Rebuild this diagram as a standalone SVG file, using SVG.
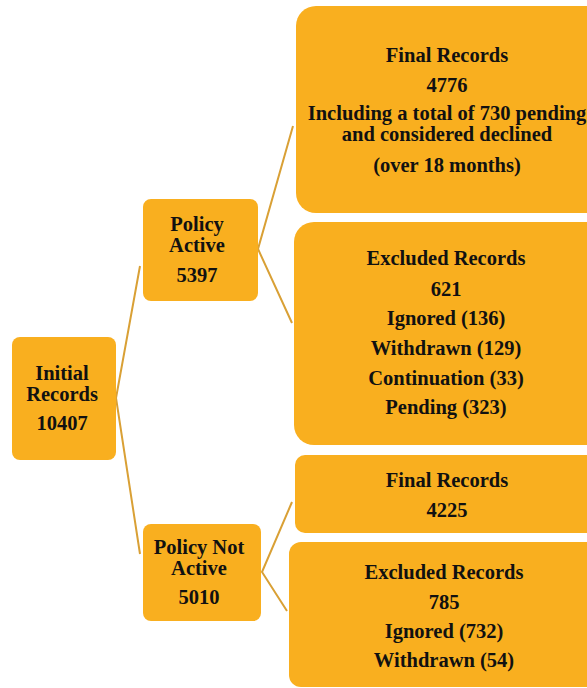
<svg xmlns="http://www.w3.org/2000/svg" width="587" height="688" viewBox="0 0 587 688">
<style>
.box{fill:#F9AF1F}
.t{font-family:"Liberation Serif","Times New Roman",serif;font-weight:bold;font-size:20.5px;fill:#111;text-anchor:middle;dominant-baseline:central}
.c{stroke:#D9A035;stroke-width:2;fill:none}
</style>
<rect width="587" height="688" fill="#fff"/>
<g id="connectors">
<polyline class="c" points="140,266 116,398 140,554"/>
<polyline class="c" points="293,126 258,249 292,323"/>
<polyline class="c" points="292,502 262,572 287,611"/>
</g>
<g id="initial">
<rect class="box" x="12" y="337" width="104" height="123" rx="8"/>
<text class="t" x="62" y="373">Initial</text>
<text class="t" x="62" y="394">Records</text>
<text class="t" x="62" y="423">10407</text>
</g>
<g id="policy-active">
<rect class="box" x="143" y="199" width="115" height="102" rx="8"/>
<text class="t" x="197" y="224">Policy</text>
<text class="t" x="197" y="245">Active</text>
<text class="t" x="197" y="275">5397</text>
</g>
<g id="policy-not-active">
<rect class="box" x="143" y="524" width="118" height="97" rx="8"/>
<text class="t" x="199" y="547">Policy Not</text>
<text class="t" x="199" y="568">Active</text>
<text class="t" x="199" y="597">5010</text>
</g>
<g id="final-active">
<rect class="box" x="296" y="6" width="310" height="207" rx="20"/>
<text class="t" x="447" y="55">Final Records</text>
<text class="t" x="447" y="85">4776</text>
<text class="t" x="447" y="113">Including a total of 730 pending</text>
<text class="t" x="447" y="134">and considered declined</text>
<text class="t" x="447" y="165">(over 18 months)</text>
</g>
<g id="excluded-active">
<rect class="box" x="294" y="222" width="312" height="223" rx="20"/>
<text class="t" x="446" y="258">Excluded Records</text>
<text class="t" x="446" y="289">621</text>
<text class="t" x="446" y="318">Ignored (136)</text>
<text class="t" x="446" y="348">Withdrawn (129)</text>
<text class="t" x="446" y="378">Continuation (33)</text>
<text class="t" x="446" y="407">Pending (323)</text>
</g>
<g id="final-not-active">
<rect class="box" x="295" y="455" width="310" height="78" rx="10"/>
<text class="t" x="447" y="480">Final Records</text>
<text class="t" x="447" y="510">4225</text>
</g>
<g id="excluded-not-active">
<rect class="box" x="289" y="542" width="316" height="145" rx="12"/>
<text class="t" x="444" y="572">Excluded Records</text>
<text class="t" x="444" y="602">785</text>
<text class="t" x="444" y="631">Ignored (732)</text>
<text class="t" x="444" y="660">Withdrawn (54)</text>
</g>
</svg>
